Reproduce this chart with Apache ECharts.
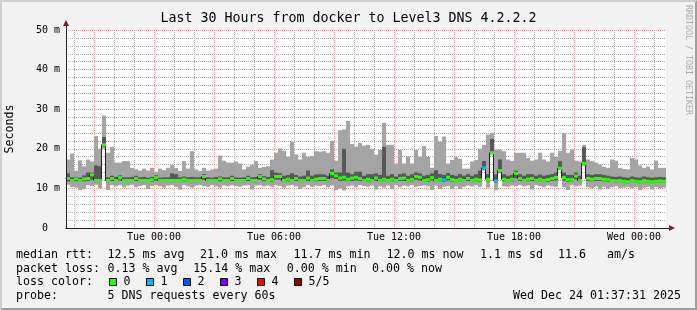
<!DOCTYPE html>
<html>
<head>
<meta charset="utf-8">
<script src="https://cdn.jsdelivr.net/npm/echarts@6/dist/echarts.min.js"></script>
<style>
html,body{margin:0;padding:0;background:#f2f2f2;}
#chart{width:697px;height:310px;}
</style>
</head>
<body>
<div id="chart"></div>
<script>
// ---------------- data ----------------
const titleText = 'Last 30 Hours from docker to Level3 DNS 4.2.2.2';
const timeLabels = ['Tue 00:00', 'Tue 06:00', 'Tue 12:00', 'Tue 18:00', 'Wed 00:00'];
const yTitle = 'Seconds';
// 12-minute bins, values in ms (ping1 = min ... ping5 = max)
const pingMin = [
10.9,10.3,10.2,9.6,9.8,10.8,10.6,10.9,10.0,20.0,
9.6,10.8,10.5,10.8,10.3,10.7,10.9,10.3,10.6,10.8,
9.8,10.6,10.8,10.5,10.2,10.7,10.8,10.4,9.7,10.8,
10.5,10.2,10.7,10.8,10.6,10.4,10.8,10.5,10.2,10.7,
10.5,10.8,10.6,10.4,10.7,10.8,9.7,10.7,10.8,10.5,
10.7,10.4,10.8,10.6,10.2,10.7,10.8,10.5,9.8,10.3,
10.8,10.4,10.7,10.6,10.8,10.3,10.7,9.6,10.0,9.5,
10.5,10.7,10.3,10.8,10.6,10.4,10.7,9.7,10.5,10.2,
10.7,9.8,10.8,10.3,10.7,10.5,10.8,10.4,10.6,10.7,
10.5,9.6,10.7,9.8,10.4,10.6,9.8,10.5,9.8,10.4,
10.7,10.5,10.8,10.4,14.5,10.2,18.6,9.6,13.8,10.5,
10.4,10.7,10.6,10.8,10.5,10.7,9.7,10.8,10.6,10.3,
10.7,10.5,10.4,14.6,10.3,9.6,10.8,10.5,10.7,15.8,
10.3,10.1,10.5,9.7,10.4,9.9,10.3,10.5,10.1,10.2,
10.4,10.1,10.3,9.6,10.2,10.4,9.7,10.3,10.1,10.2];
const ping2 = [
11.8,11.6,11.8,11.6,11.8,11.9,12.2,11.6,11.6,20.5,
11.6,11.9,11.6,12.0,11.6,11.6,11.6,11.9,11.6,11.6,
11.6,11.7,12.0,11.6,11.6,11.6,11.6,11.6,11.6,11.8,
11.6,11.6,11.6,11.6,12.2,11.6,11.6,11.6,11.8,11.6,
11.6,11.9,11.6,11.6,11.6,11.9,11.6,11.6,12.2,11.8,
11.6,11.7,12.2,12.2,11.6,11.8,11.6,11.9,11.6,11.6,
11.9,11.6,11.8,11.9,11.9,11.6,12.6,12.4,11.9,12.0,
11.8,11.9,12.0,11.9,11.6,11.8,11.6,11.9,11.6,11.8,
11.6,11.8,11.6,11.9,11.9,11.6,11.8,12.2,12.0,11.6,
11.7,12.0,11.6,11.8,11.7,12.0,11.7,11.6,11.8,11.6,
11.9,11.6,11.8,11.7,14.8,11.8,18.8,11.5,14.0,11.8,
11.6,11.8,12.6,11.9,11.6,11.8,11.9,11.6,11.8,11.6,
11.7,11.9,12.0,14.8,12.0,11.7,11.8,12.3,11.6,16.0,
11.9,11.8,11.9,11.9,11.8,11.7,11.6,11.5,11.6,11.4,
11.3,11.6,11.4,11.3,11.6,11.4,11.3,11.4,11.5,11.4];
const median = [
12.5,12.0,12.4,12.0,12.4,12.5,13.4,12.0,12.0,21.0,
12.0,12.5,12.0,12.7,12.0,12.0,12.0,12.5,12.0,12.0,
12.0,12.2,12.7,12.0,12.0,12.0,12.0,12.0,12.0,12.3,
12.0,12.0,12.0,12.0,13.0,12.0,12.0,12.0,12.4,12.0,
12.0,12.5,12.0,12.0,12.0,12.5,12.0,12.0,13.0,12.4,
12.0,12.2,13.0,13.0,12.0,12.3,12.0,12.5,12.0,12.0,
12.6,12.0,12.3,12.5,12.5,12.0,13.8,13.2,12.6,12.8,
12.3,12.6,12.8,12.5,12.0,12.3,12.0,12.6,12.0,12.3,
12.0,12.3,12.0,12.5,12.6,12.0,12.3,13.0,12.8,12.0,
12.2,12.7,12.0,12.3,12.2,12.8,12.2,12.0,12.3,12.0,
12.5,12.0,12.3,12.1,15.2,12.3,19.0,11.9,14.5,12.3,
12.0,12.3,13.8,12.5,12.0,12.3,12.5,12.0,12.3,12.0,
12.2,12.5,12.8,15.1,12.7,12.2,12.3,13.1,12.0,16.3,
12.5,12.3,12.5,12.5,12.3,12.2,12.0,11.9,12.0,11.8,
11.7,12.0,11.8,11.7,12.0,11.8,11.7,11.8,11.9,11.8];
const ping4 = [
13.8,12.8,12.9,12.7,13.3,14.0,14.0,15.8,15.6,23.0,
12.8,13.2,12.9,13.3,12.8,12.8,12.9,13.2,12.8,12.9,
12.7,12.9,13.3,12.7,12.8,12.8,13.8,13.6,12.8,13.0,
12.8,12.9,12.8,12.8,13.6,12.8,12.7,12.9,13.0,12.8,
12.8,13.2,12.8,12.7,12.8,13.2,12.8,12.9,13.6,13.1,
12.9,14.6,14.0,13.8,13.2,13.4,13.8,13.4,13.0,13.2,
14.5,13.2,13.5,13.6,13.5,13.2,14.8,14.0,14.0,20.0,
14.0,13.6,14.2,14.2,13.2,13.6,13.6,13.8,13.4,20.5,
13.2,13.6,13.0,13.6,13.8,13.2,13.6,14.0,13.8,13.2,
13.4,13.8,14.6,13.6,13.4,13.9,13.4,13.2,13.6,13.2,
13.6,13.2,13.6,14.5,16.9,13.6,22.5,13.5,17.3,13.6,
13.2,13.4,14.5,13.6,13.2,13.6,13.6,13.2,13.5,13.2,
13.4,13.6,14.0,16.9,14.0,13.4,13.4,14.0,13.2,20.4,
13.6,13.4,13.6,13.6,13.4,13.2,13.0,12.9,13.0,12.8,
12.7,13.0,12.8,12.7,13.0,12.8,12.7,12.8,12.9,12.8];
const pingMax = [
17.3,18.8,14.4,17.1,15.6,17.3,16.8,23.2,20.0,28.4,
19.0,20.5,16.5,16.5,16.9,16.9,15.2,14.8,14.5,15.0,
14.5,15.2,14.2,15.0,14.6,15.2,15.9,15.2,14.4,16.9,
15.0,19.4,14.8,14.4,15.2,14.5,14.8,15.0,18.3,17.0,
16.5,16.5,16.8,16.3,14.8,15.5,16.0,16.9,15.2,15.4,
15.6,17.3,19.0,20.1,19.5,18.0,21.8,18.6,17.3,19.0,
18.0,18.2,19.4,19.3,19.4,19.0,22.0,17.0,24.7,24.9,
27.0,21.2,20.5,21.5,20.8,21.0,20.0,18.5,19.7,26.6,
21.0,21.0,16.3,19.7,16.3,18.0,16.3,19.7,18.0,20.7,
18.0,15.2,23.2,21.8,23.1,16.3,17.2,18.0,17.5,15.0,
15.0,16.8,17.2,20.0,21.0,23.6,24.0,19.8,19.8,19.4,
17.3,16.9,19.0,19.0,19.0,17.7,17.0,17.3,19.0,17.3,
16.8,19.0,18.0,19.5,24.0,19.0,19.8,17.0,16.8,21.0,
17.3,16.9,16.5,16.0,15.5,15.2,17.3,17.0,15.2,14.9,
14.8,17.7,17.3,15.8,15.2,15.5,14.8,17.0,15.2,15.2];
// number of lost pings (of 5) per bin
const lossCount = [
0,0,0,0,0,0,0,0,0,0, 0,0,0,0,0,0,0,0,0,0, 0,0,0,0,0,0,0,0,0,0,
0,0,0,0,0,0,0,0,0,0, 0,0,0,0,0,0,0,0,0,0, 0,0,0,0,0,0,0,0,0,0,
0,0,0,0,0,0,0,0,0,0, 0,0,0,0,0,0,0,0,0,0, 0,0,0,0,0,0,0,0,0,0,
0,0,0,0,1,0,0,0,0,0, 0,0,0,0,1,0,0,1,0,0, 0,0,0,0,0,0,0,0,0,0,
0,0,0,0,0,0,0,0,0,0, 0,0,0,0,0,0,0,0,0,0, 0,0,0,0,0,0,0,0,0,0];
const lossColors = ['#26ff00', '#00b8ff', '#0059ff', '#7e00ff', '#ff0000', '#a10000'];
const lossNames = ['0', '1', '2', '3', '4', '5/5'];
const rttLine = ['median rtt:', '12.5 ms avg', '21.0 ms max', '11.7 ms min', '12.0 ms now', '1.1 ms sd', '11.6', 'am/s'];
const lossLine = ['packet loss:', '0.13 % avg', '15.14 % max', '0.00 % min', '0.00 % now'];
const lossColorLabel = 'loss color:';
const probeLine = ['probe:', '5 DNS requests every 60s'];
const stampText = 'Wed Dec 24 01:37:31 2025';
const watermarkText = 'RRDTOOL / TOBI OETIKER';

// ---------------- layout / style ----------------
const FONT = '"DejaVu Sans Mono", monospace';
const PL = 66, PT = 30, PW = 600, PH = 198;
const HALF_BAND = 0.38; // half height of coloured median band, ms
const C_LIGHT = '#a4a4a4', C_DARK = '#585858';
const C_GRID = '#ababab', C_MGRID = '#eb9595';
const C_AXIS = '#1f1f1f', C_ARROW = '#801f1f';

const bins = pingMax.map((v, i) => i);
const smokeData = bins.map(i => [i, pingMin[i], ping2[i], median[i], ping4[i], pingMax[i]]);
const medData = bins.map(i => [i, median[i], i > 0 ? median[i - 1] : median[i], lossCount[i]]);

function renderSmoke(params, api) {
  const i = api.value(0);
  const w = api.size([1, 0])[0];
  const c = api.coord([i, 0]);
  const x = c[0] - w / 2;
  const y1 = api.coord([i, api.value(1)])[1];
  const y2 = api.coord([i, api.value(2)])[1];
  const y4 = api.coord([i, api.value(4)])[1];
  const y5 = api.coord([i, api.value(5)])[1];
  return {type: 'group', children: [
    {type: 'rect', shape: {x: x, y: y5, width: w, height: y1 - y5}, style: {fill: C_LIGHT}},
    {type: 'rect', shape: {x: x, y: y4, width: w, height: y2 - y4}, style: {fill: C_DARK}}
  ]};
}
function renderMedLine(params, api) {
  const i = api.value(0);
  const w = api.size([1, 0])[0];
  const p = api.coord([i, api.value(1)]);
  const q = api.coord([i, api.value(2)]);
  const x0 = p[0] - w / 2, x1 = p[0] + w / 2;
  return {type: 'polyline', shape: {points: [[x0 - 0.5, q[1]], [x0 - 0.5, p[1]], [x1, p[1]]]},
          style: {stroke: '#202020', lineWidth: 1, fill: null}};
}
function renderBand(params, api) {
  const i = api.value(0), m = api.value(1);
  const w = api.size([1, 0])[0];
  const t = api.coord([i, m + HALF_BAND]);
  const b = api.coord([i, m - HALF_BAND]);
  return {type: 'rect', shape: {x: t[0] - w / 2, y: t[1], width: w, height: b[1] - t[1]},
          style: {fill: lossColors[api.value(3)]}};
}

const noAxis = {axisLine: {show: false}, axisTick: {show: false}, axisLabel: {show: false}};

// legend graphics
const graphics = [];
function txt(x, y, s, opts) {
  graphics.push({type: 'text', x: x, y: y, silent: true,
    style: Object.assign({text: s, font: '11.63px ' + FONT, fill: '#000', textVerticalAlign: 'middle', textAlign: 'left'}, opts || {})});
}
// 3D frame
graphics.push({type: 'polygon', silent: true, shape: {points: [[0, 310], [2, 308], [2, 2], [695, 2], [697, 0], [0, 0]]}, style: {fill: '#cfcfcf'}});
graphics.push({type: 'polygon', silent: true, shape: {points: [[0, 310], [697, 310], [697, 0], [695, 2], [695, 308], [2, 308]]}, style: {fill: '#9e9e9e'}});
// title
txt(348.5, 19, titleText, {font: '13.29px ' + FONT, textAlign: 'center'});
// y title
graphics.push({type: 'text', x: 10, y: 129, rotation: Math.PI / 2, silent: true,
  style: {text: yTitle, font: '11.63px ' + FONT, fill: '#000', textAlign: 'center', textVerticalAlign: 'middle'}});
// watermark
graphics.push({type: 'text', x: 688.5, y: 60, rotation: -Math.PI / 2, silent: true,
  style: {text: watermarkText, font: '8.3px ' + FONT, fill: '#a9a9a9', textAlign: 'center', textVerticalAlign: 'middle'}});
// legend rows
const rttX = [16, 107.5, 200, 293.5, 386.5, 480, 558, 607];
rttLine.forEach((s, k) => txt(rttX[k], 255, s));
const lossX = [16, 107.5, 193.3, 286.7, 372];
lossLine.forEach((s, k) => txt(lossX[k], 268.5, s));
txt(16, 282, lossColorLabel);
lossNames.forEach((s, k) => {
  const bx = 109 + k * 37;
  graphics.push({type: 'rect', silent: true, shape: {x: bx + 0.5, y: 278.5, width: 7, height: 7},
    style: {fill: lossColors[k], stroke: '#000', lineWidth: 1}});
  txt(bx + 14.6, 282, s);
});
txt(16, 295.5, probeLine[0]);
txt(107.5, 295.5, probeLine[1]);
txt(681, 295.5, stampText, {textAlign: 'right'});

const option = {
  animation: false,
  backgroundColor: '#f2f2f2',
  textStyle: {fontFamily: FONT},
  grid: [
    {left: PL, top: PT, width: PW, height: PH, show: true, backgroundColor: '#ffffff', borderWidth: 0},
    {left: 74, top: PT, width: 580, height: PH, show: false},
    {left: 94, top: PT, width: 540, height: PH, show: false},
    {left: 154, top: PT, width: 480, height: PH, show: false},
    {left: PL, top: 26, width: 603, height: 202, show: false},
    {left: PL, top: 26, width: 603, height: 202, show: false}
  ],
  xAxis: [
    Object.assign({type: 'category', gridIndex: 0, data: bins, boundaryGap: true, splitLine: {show: false}}, noAxis),
    Object.assign({type: 'value', gridIndex: 1, min: 0, max: 29, interval: 1, z: 1,
      splitLine: {show: true, lineStyle: {color: C_GRID, width: 1, type: [1, 1]}}}, noAxis),
    Object.assign({type: 'value', gridIndex: 2, min: 0, max: 27, interval: 3, z: 1,
      splitLine: {show: true, lineStyle: {color: C_MGRID, width: 1, type: [1, 1]}}}, noAxis),
    {type: 'value', gridIndex: 3, min: 0, max: 24, interval: 6, splitLine: {show: false},
      axisLine: {show: false}, axisTick: {show: false},
      axisLabel: {show: true, margin: 4, color: '#000', fontFamily: FONT, fontSize: 9.97,
        formatter: v => timeLabels[Math.round(v / 6)]}},
    {type: 'value', gridIndex: 4, min: 0, max: 1, splitLine: {show: false}, axisTick: {show: false}, axisLabel: {show: false}, z: 4,
      axisLine: {show: true, lineStyle: {color: C_ARROW, width: 1}, symbol: ['none', 'triangle'], symbolSize: [6, 6], symbolOffset: [0, 3]}},
    {type: 'value', gridIndex: 5, min: 0, max: 1, splitLine: {show: false}, axisTick: {show: false}, axisLabel: {show: false}, z: 5,
      axisLine: {show: true, lineStyle: {color: C_AXIS, width: 1}}}
  ],
  yAxis: [
    Object.assign({type: 'value', gridIndex: 0, position: 'left', min: 0, max: 50, interval: 2, z: 1,
      splitLine: {show: true, lineStyle: {color: C_GRID, width: 1, type: [1, 1]}}}, noAxis),
    {type: 'value', gridIndex: 0, position: 'left', min: 0, max: 50, interval: 10, z: 1,
      splitLine: {show: true, lineStyle: {color: C_MGRID, width: 1, type: [1, 1]}},
      axisLine: {show: false}, axisTick: {show: false},
      axisLabel: {show: true, margin: 6, color: '#000', fontFamily: FONT, fontSize: 9.97,
        formatter: v => (v === 0 ? '0  ' : v + ' m')}},
    Object.assign({type: 'value', gridIndex: 1, show: false}, noAxis),
    Object.assign({type: 'value', gridIndex: 2, show: false}, noAxis),
    Object.assign({type: 'value', gridIndex: 3, show: false}, noAxis),
    {type: 'value', gridIndex: 4, position: 'left', min: 0, max: 1, splitLine: {show: false}, axisTick: {show: false}, axisLabel: {show: false}, z: 4,
      axisLine: {show: true, lineStyle: {color: C_ARROW, width: 1}, symbol: ['none', 'triangle'], symbolSize: [6, 6], symbolOffset: [0, 3]}},
    {type: 'value', gridIndex: 5, position: 'left', min: 0, max: 1, splitLine: {show: false}, axisTick: {show: false}, axisLabel: {show: false}, z: 5,
      axisLine: {show: true, lineStyle: {color: C_AXIS, width: 1}}}
  ],
  series: [
    {type: 'custom', name: 'smoke', xAxisIndex: 0, yAxisIndex: 1, renderItem: renderSmoke, data: smokeData, z: 2, silent: true},
    {type: 'custom', name: 'median', xAxisIndex: 0, yAxisIndex: 1, renderItem: renderMedLine, data: medData, z: 2, silent: true},
    {type: 'custom', name: 'loss', xAxisIndex: 0, yAxisIndex: 1, renderItem: renderBand, data: medData, z: 2, silent: true}
  ],
  graphic: graphics
};
const chart = echarts.init(document.getElementById('chart'), null, {renderer: 'canvas'});
chart.setOption(option);
</script>
</body>
</html>
